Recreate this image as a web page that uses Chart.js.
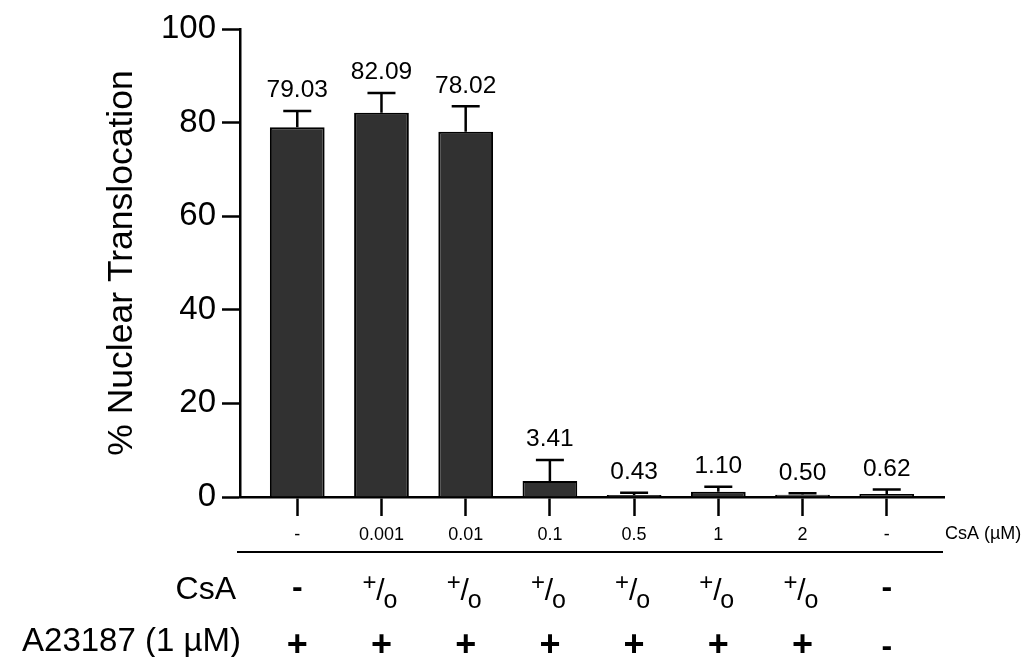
<!DOCTYPE html>
<html>
<head>
<meta charset="utf-8">
<script src="https://cdn.jsdelivr.net/npm/chart.js@4.4.1/dist/chart.umd.min.js"></script>
<style>
  html, body { margin: 0; padding: 0; background: #ffffff; }
  #wrap { width: 1030px; height: 657px; }
</style>
</head>
<body>
<div id="wrap"><canvas id="c" width="1030" height="657"></canvas></div>
<script>
// CsA concentration under each bar (µM)
const concentrations = ['-', '0.001', '0.01', '0.1', '0.5', '1', '2', '-'];
// Mean % nuclear translocation and its SD
const meanTranslocation = [79.03, 82.09, 78.02, 3.41, 0.43, 1.10, 0.50, 0.62];
const sdTranslocation = [3.45, 4.24, 5.46, 4.5, 0.5, 1.1, 0.3, 1.0];
// Treatment table rows below the axis
const csaRow = ['-', '+/o', '+/o', '+/o', '+/o', '+/o', '+/o', '-'];
const a23187Row = ['+', '+', '+', '+', '+', '+', '+', '-'];
const yTicks = [0, 20, 40, 60, 80, 100];

const FONT = '"Liberation Sans", Arial, Helvetica, sans-serif';
Chart.defaults.font.family = FONT;
Chart.defaults.color = '#000';

// Upper SD whiskers plus the mean value printed above each whisker
const errorBars = {
  id: 'errorBars',
  afterDatasetsDraw(chart) {
    const { ctx, scales: { x, y } } = chart;
    ctx.save();
    ctx.strokeStyle = '#000';
    ctx.lineWidth = 2.5;
    ctx.fillStyle = '#000';
    ctx.font = '24.5px ' + FONT;
    ctx.textAlign = 'center';
    ctx.textBaseline = 'alphabetic';
    meanTranslocation.forEach((m, i) => {
      const cx = x.getPixelForValue(i);
      const yMean = y.getPixelForValue(m);
      const yTop = y.getPixelForValue(m + sdTranslocation[i]);
      ctx.beginPath();
      ctx.moveTo(cx, yMean);
      ctx.lineTo(cx, yTop);
      ctx.moveTo(cx - 14, yTop);
      ctx.lineTo(cx + 14, yTop);
      ctx.stroke();
      ctx.fillText(m.toFixed(2), cx, yTop - 13.5);
    });
    ctx.restore();
  }
};

// Treatment table: unit label, rule, CsA and A23187 rows
const treatmentTable = {
  id: 'treatmentTable',
  afterDraw(chart) {
    const { ctx, scales: { x } } = chart;
    ctx.save();
    ctx.fillStyle = '#000';
    ctx.strokeStyle = '#000';

    ctx.font = '18px ' + FONT;
    ctx.textAlign = 'left';
    ctx.textBaseline = 'middle';
    ctx.fillText('CsA (µM)', 945, 534);

    ctx.lineWidth = 2;
    ctx.beginPath();
    ctx.moveTo(237, 552);
    ctx.lineTo(943, 552);
    ctx.stroke();

    ctx.textAlign = 'right';
    ctx.textBaseline = 'alphabetic';
    ctx.font = '32px ' + FONT;
    ctx.fillText('CsA', 236, 599);
    ctx.font = '33px ' + FONT;
    ctx.fillText('A23187 (1 µM)', 241, 651);

    ctx.textAlign = 'center';
    ctx.textBaseline = 'middle';
    csaRow.forEach((s, i) => {
      const cx = x.getPixelForValue(i);
      if (s === '-') {
        ctx.font = 'bold 32px ' + FONT;
        ctx.fillText('-', cx, 588);
      } else {
        ctx.font = '24px ' + FONT;
        ctx.fillText('+', cx - 12, 583);
        ctx.font = '30px ' + FONT;
        ctx.fillText('/', cx - 1, 592);
        ctx.font = '25px ' + FONT;
        ctx.fillText('o', cx + 9, 601);
      }
    });
    a23187Row.forEach((s, i) => {
      const cx = x.getPixelForValue(i);
      ctx.font = 'bold ' + (s === '+' ? 36 : 32) + 'px ' + FONT;
      ctx.fillText(s, cx, s === '+' ? 646 : 647);
    });
    ctx.restore();
  }
};

new Chart(document.getElementById('c'), {
  type: 'bar',
  data: {
    datasets: [{
      data: meanTranslocation.map((v, i) => ({ x: i, y: v })),
      backgroundColor: '#313131',
      borderColor: '#000000',
      borderWidth: 2,
      barPercentage: 0.65,
      categoryPercentage: 1.0
    }]
  },
  options: {
    responsive: false,
    animation: false,
    devicePixelRatio: 1,
    layout: { padding: { top: 29, right: 86, bottom: 0, left: 0 } },
    plugins: { legend: { display: false }, tooltip: { enabled: false } },
    scales: {
      x: {
        type: 'linear',
        min: -0.68,
        max: 7.68,
        bounds: 'data',
        offset: false,
        afterBuildTicks: s => { s.ticks = concentrations.map((_, i) => ({ value: i })); },
        afterFit: s => { s.height = 160; },
        ticks: {
          callback: v => concentrations[v] ?? '',
          font: { size: 18 },
          color: '#000',
          padding: 8,
          maxRotation: 0,
          autoSkip: false
        },
        grid: { offset: false, drawOnChartArea: false, drawTicks: true, tickLength: 19, tickWidth: 2.5, tickColor: '#000' },
        border: { display: true, color: '#000', width: 2.5 }
      },
      y: {
        min: 0,
        max: 100,
        afterBuildTicks: s => { s.ticks = yTicks.map(v => ({ value: v })); },
        afterFit: s => { s.width = 240; },
        ticks: { font: { size: 33 }, color: '#000', padding: 6 },
        grid: { drawOnChartArea: false, drawTicks: true, tickLength: 18, tickWidth: 2.5, tickColor: '#000' },
        border: { display: true, color: '#000', width: 2.5 },
        title: {
          display: true,
          text: '% Nuclear Translocation',
          font: { size: 35.5 },
          color: '#000',
          padding: { top: 101, bottom: 0 }
        }
      }
    }
  },
  plugins: [errorBars, treatmentTable]
});
</script>
</body>
</html>
